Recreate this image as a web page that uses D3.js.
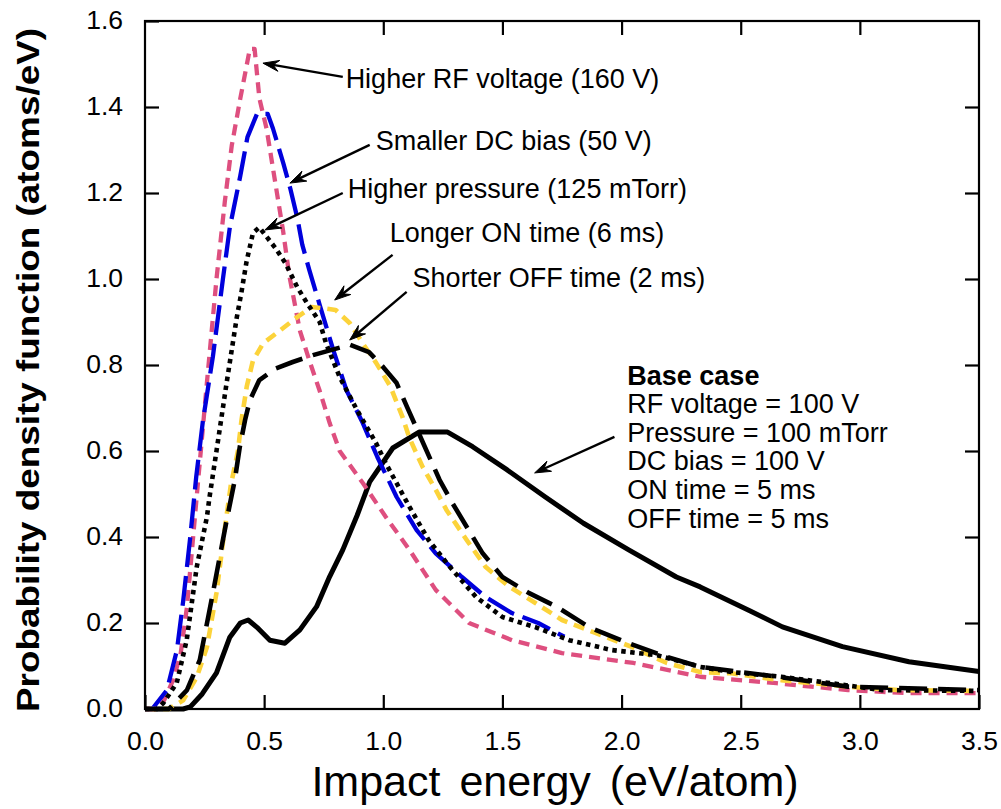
<!DOCTYPE html>
<html>
<head>
<meta charset="utf-8">
<script src="https://cdn.jsdelivr.net/npm/d3@7"></script>
<style>
  html, body { margin: 0; padding: 0; background: #fff; }
  svg { display: block; }
  text { font-family: "Liberation Sans", Arial, Helvetica, sans-serif; fill: #000; }
</style>
</head>
<body>
<div id="chart"></div>
<script>
// curves: [impact energy (eV/atom), pdf (atoms/eV)]
const baseCase = [[0,0],[0.16,0],[0.19,0.005],[0.24,0.035],[0.30,0.084],[0.356,0.167],[0.40,0.2],[0.433,0.207],[0.47,0.19],[0.524,0.16],[0.587,0.153],[0.65,0.184],[0.72,0.238],[0.775,0.308],[0.83,0.37],[0.89,0.45],[0.943,0.528],[1.04,0.607],[1.15,0.644],[1.27,0.644],[1.375,0.61],[1.52,0.556],[1.68,0.493],[1.84,0.432],[2.03,0.37],[2.23,0.307],[2.33,0.284],[2.54,0.228],[2.675,0.191],[2.927,0.145],[3.206,0.11],[3.5,0.087]];
const higherRF = [[0,0],[0.05,0],[0.08,0.02],[0.12,0.07],[0.15,0.13],[0.176,0.237],[0.218,0.5],[0.26,0.76],[0.30,1.0],[0.335,1.18],[0.364,1.31],[0.40,1.42],[0.44,1.535],[0.46,1.535],[0.48,1.42],[0.51,1.35],[0.545,1.23],[0.58,1.11],[0.605,1.01],[0.65,0.88],[0.69,0.81],[0.733,0.74],[0.775,0.665],[0.817,0.6],[0.915,0.525],[1.01,0.447],[1.11,0.37],[1.22,0.277],[1.36,0.2],[1.54,0.16],[1.75,0.13],[2.05,0.107],[2.33,0.075],[2.65,0.06],[2.95,0.044],[3.2,0.037],[3.5,0.037]];
const smallerDC = [[0,0],[0.03,0],[0.092,0.044],[0.134,0.137],[0.16,0.25],[0.19,0.40],[0.215,0.54],[0.243,0.67],[0.285,0.82],[0.306,0.91],[0.327,1.0],[0.356,1.12],[0.40,1.24],[0.43,1.33],[0.47,1.384],[0.515,1.384],[0.537,1.35],[0.58,1.27],[0.61,1.21],[0.64,1.14],[0.66,1.08],[0.69,1.02],[0.733,0.94],[0.79,0.835],[0.845,0.742],[0.914,0.665],[0.975,0.586],[1.056,0.493],[1.14,0.416],[1.22,0.362],[1.33,0.307],[1.43,0.26],[1.54,0.223],[1.65,0.2],[1.76,0.168]];
const higherPressure = [[0,0],[0.05,0],[0.077,0.014],[0.133,0.06],[0.175,0.16],[0.217,0.33],[0.26,0.447],[0.27,0.49],[0.30,0.60],[0.343,0.76],[0.385,0.91],[0.405,0.97],[0.426,1.04],[0.453,1.107],[0.48,1.12],[0.55,1.07],[0.59,1.036],[0.64,0.98],[0.68,0.944],[0.733,0.9],[0.76,0.85],[0.817,0.772],[0.89,0.695],[0.97,0.618],[1.01,0.572],[1.11,0.47],[1.19,0.393],[1.28,0.33],[1.39,0.26],[1.5,0.214],[1.64,0.19],[1.78,0.16],[1.96,0.137],[2.15,0.125],[2.33,0.098],[2.46,0.086],[2.67,0.075],[2.88,0.06],[3.09,0.044],[3.5,0.042]];
const longerON = [[0,0],[0.1,0],[0.16,0.02],[0.218,0.075],[0.26,0.144],[0.30,0.27],[0.33,0.40],[0.36,0.52],[0.39,0.60],[0.405,0.672],[0.427,0.75],[0.453,0.81],[0.495,0.85],[0.566,0.88],[0.64,0.912],[0.70,0.935],[0.747,0.932],[0.80,0.928],[0.86,0.897],[0.914,0.85],[0.97,0.805],[1.03,0.75],[1.08,0.68],[1.11,0.63],[1.165,0.563],[1.22,0.51],[1.265,0.463],[1.35,0.393],[1.43,0.33],[1.53,0.284],[1.64,0.246],[1.75,0.207],[1.89,0.177],[2.04,0.145],[2.19,0.107],[2.33,0.086],[2.46,0.083],[2.67,0.067],[2.95,0.052],[3.16,0.044],[3.5,0.042]];
const shorterOFF = [[0,0],[0.1,0],[0.176,0.044],[0.23,0.114],[0.285,0.27],[0.343,0.44],[0.377,0.533],[0.398,0.61],[0.42,0.672],[0.44,0.718],[0.48,0.765],[0.55,0.792],[0.62,0.807],[0.705,0.823],[0.86,0.847],[0.94,0.83],[1.0,0.795],[1.056,0.758],[1.1,0.702],[1.236,0.533],[1.29,0.479],[1.417,0.362],[1.5,0.307],[1.61,0.27],[1.73,0.237],[1.865,0.19],[2.03,0.153],[2.19,0.121],[2.33,0.098],[2.6,0.079],[2.95,0.052],[3.5,0.044]];

const xTicks = [0, 0.5, 1.0, 1.5, 2.0, 2.5, 3.0, 3.5];
const yTicks = [0, 0.2, 0.4, 0.6, 0.8, 1.0, 1.2, 1.4, 1.6];

const baseCaseLines = ["RF voltage = 100 V", "Pressure = 100 mTorr", "DC bias = 100 V", "ON time = 5 ms", "OFF time = 5 ms"];

// label text + arrow, all in data units
const notes = [
  { label: "Higher RF voltage (160 V)", tx: 0.842, ty: 1.467, from: [0.83, 1.47], to: [0.495, 1.502] },
  { label: "Smaller DC bias (50 V)", tx: 0.968, ty: 1.323, from: [0.943, 1.312], to: [0.608, 1.223] },
  { label: "Higher pressure (125 mTorr)", tx: 0.851, ty: 1.212, from: [0.83, 1.2], to: [0.503, 1.114] },
  { label: "Longer ON time (6 ms)", tx: 1.027, ty: 1.109, from: [1.039, 1.056], to: [0.796, 0.951] },
  { label: "Shorter OFF time (2 ms)", tx: 1.123, ty: 1.005, from: [1.098, 0.970], to: [0.859, 0.858] }
];

const width = 1001, height = 809;
const margin = { top: 21, right: 22, bottom: 100, left: 145 };
const w = width - margin.left - margin.right;
const h = height - margin.top - margin.bottom;

const svg = d3.select("#chart").append("svg")
  .attr("width", width)
  .attr("height", height);

const g = svg.append("g")
  .attr("transform", `translate(${margin.left},${margin.top})`);

const x = d3.scaleLinear().domain([0, 3.5]).range([0, w]);
const y = d3.scaleLinear().domain([0, 1.6]).range([h, 0]);

const line = d3.line()
  .x(d => x(d[0]))
  .y(d => y(Math.min(d[1], 1.6)));

const series = [
  { data: baseCase, color: "#000", width: 5, dash: null },
  { data: higherRF, color: "#de4f7f", width: 4.3, dash: "11,7" },
  { data: smallerDC, color: "#0000dc", width: 4.3, dash: "30,9" },
  { data: longerON, color: "#fcd33a", width: 4.6, dash: "11,7" },
  { data: shorterOFF, color: "#000", width: 4.6, dash: "28,11" },
  { data: higherPressure, color: "#000", width: 4.6, dash: "4.5,4.5" }
];

g.selectAll(".curve")
  .data(series)
  .enter().append("path")
  .attr("class", "curve")
  .attr("d", d => line(d.data))
  .attr("fill", "none")
  .attr("stroke", d => d.color)
  .attr("stroke-width", d => d.width)
  .attr("stroke-dasharray", d => d.dash)
  .attr("stroke-linejoin", "round");

// frame with inward ticks on all four sides
const tickLen = 14;
const frameW = 2.2;

const xAxisB = g.append("g").attr("transform", `translate(0,${h})`)
  .call(d3.axisBottom(x).tickValues(xTicks).tickFormat(d3.format(".1f")).tickSizeInner(-tickLen).tickSizeOuter(0).tickPadding(22));
const xAxisT = g.append("g")
  .call(d3.axisTop(x).tickValues(xTicks.slice(1, -1)).tickFormat("").tickSizeInner(-tickLen).tickSizeOuter(0));
const yAxisL = g.append("g")
  .call(d3.axisLeft(y).tickValues(yTicks).tickFormat(d3.format(".1f")).tickSizeInner(-tickLen).tickSizeOuter(0).tickPadding(22));
const yAxisR = g.append("g").attr("transform", `translate(${w},0)`)
  .call(d3.axisRight(y).tickValues(yTicks.slice(1, -1)).tickFormat("").tickSizeInner(-tickLen).tickSizeOuter(0));

[xAxisB, xAxisT, yAxisL, yAxisR].forEach(a => {
  a.select(".domain").remove();
  a.selectAll(".tick line").attr("stroke", "#000").attr("stroke-width", frameW);
  a.selectAll(".tick text").style("font-size", "26.5px").attr("fill", "#000");
});
xAxisB.selectAll(".tick text").attr("dy", "0.71em");
yAxisL.selectAll(".tick text").attr("dy", "0.3em");

g.append("rect")
  .attr("x", 0).attr("y", 0)
  .attr("width", w).attr("height", h)
  .attr("fill", "none")
  .attr("stroke", "#000")
  .attr("stroke-width", frameW);

// axis titles
svg.append("text")
  .attr("x", 555)
  .attr("y", 796)
  .attr("text-anchor", "middle")
  .style("font-size", "43px")
  .style("word-spacing", "7px")
  .text("Impact energy (eV/atom)");

svg.append("text")
  .attr("transform", `translate(39,${margin.top + h / 2 + 5}) rotate(-90)`)
  .attr("text-anchor", "middle")
  .style("font-size", "31px")
  .style("font-weight", "bold")
  .attr("textLength", 684)
  .attr("lengthAdjust", "spacingAndGlyphs")
  .text("Probability density function (atoms/eV)");

// arrows
function arrow(sel, p0, p1) {
  const x0 = x(p0[0]), y0 = y(p0[1]), x1 = x(p1[0]), y1 = y(p1[1]);
  const ang = Math.atan2(y1 - y0, x1 - x0);
  const L = 17, spread = 0.33;
  const a1 = [x1 - L * Math.cos(ang - spread), y1 - L * Math.sin(ang - spread)];
  const a2 = [x1 - L * Math.cos(ang + spread), y1 - L * Math.sin(ang + spread)];
  const m = [x1 - 0.6 * L * Math.cos(ang), y1 - 0.6 * L * Math.sin(ang)];
  sel.append("line")
    .attr("x1", x0).attr("y1", y0).attr("x2", m[0]).attr("y2", m[1])
    .attr("stroke", "#000").attr("stroke-width", 2.4);
  sel.append("path")
    .attr("d", `M${a1[0]},${a1[1]}L${x1},${y1}L${a2[0]},${a2[1]}L${m[0]},${m[1]}Z`)
    .attr("fill", "#000")
    .attr("stroke", "#000")
    .attr("stroke-width", 1)
    .attr("stroke-linejoin", "miter");
}

const noteG = g.append("g");
notes.forEach(n => {
  arrow(noteG, n.from, n.to);
  noteG.append("text")
    .attr("x", x(n.tx))
    .attr("y", y(n.ty))
    .attr("dy", "0.36em")
    .style("font-size", "27px")
    .text(n.label);
});

// base case block
arrow(noteG, [1.97, 0.633], [1.635, 0.549]);
const baseX = x(2.024), baseY = y(0.777), lineStep = 28.6;
noteG.append("text")
  .attr("x", baseX).attr("y", baseY).attr("dy", "0.36em")
  .style("font-size", "27px").style("font-weight", "bold")
  .text("Base case");
noteG.selectAll(".base-line")
  .data(baseCaseLines)
  .enter().append("text")
  .attr("class", "base-line")
  .attr("x", baseX)
  .attr("y", (d, i) => baseY + (i + 1) * lineStep)
  .attr("dy", "0.36em")
  .style("font-size", "27px")
  .text(d => d);
</script>
</body>
</html>
